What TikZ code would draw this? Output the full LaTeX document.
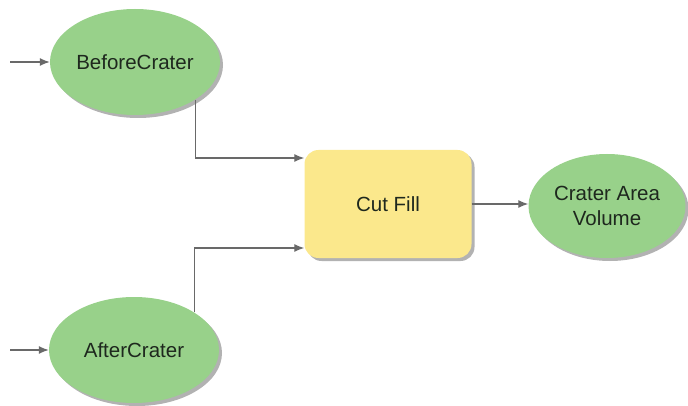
\documentclass[tikz,border=0pt]{standalone}
\usepackage{fontspec}
\setmainfont{Liberation Sans}
\usetikzlibrary{shapes.geometric,shadows,arrows.meta}
\definecolor{nodegreen}{RGB}{152,209,138}
\definecolor{toolyellow}{RGB}{251,232,140}
\definecolor{linegray}{RGB}{105,105,105}
\definecolor{textdark}{RGB}{30,40,30}
\tikzset{
  dataellipse/.style={ellipse, fill=nodegreen, minimum width=170pt, minimum height=106pt, inner sep=0pt,
    align=center, font=\fontsize{20.5}{25}\selectfont, text=textdark,
    drop shadow={shadow xshift=3pt, shadow yshift=-3pt, fill=black, opacity=0.3}},
  toolbox/.style={rectangle, rounded corners=14pt, fill=toolyellow, minimum width=167pt, minimum height=108pt,
    inner sep=0pt, font=\fontsize{20.5}{25}\selectfont, text=textdark,
    drop shadow={shadow xshift=3pt, shadow yshift=-3pt, fill=black, opacity=0.3}},
  conn/.style={draw=linegray, line width=1.3pt, -{Latex[length=10pt,width=8pt]}},
}
\begin{document}
\begin{tikzpicture}[x=1pt,y=-1pt]
\useasboundingbox (0,0) rectangle (688,406);
\node[dataellipse] (bc) at (135,62) {BeforeCrater};
\node[dataellipse] (ac) at (134,350) {AfterCrater};
\node[toolbox] (cf) at (388,204) {Cut Fill};
\node[dataellipse, minimum width=157pt, minimum height=104pt] (out) at (607,206) {Crater Area\\Volume};
\coordinate (bcin) at (10,62);
\coordinate (acin) at (10,350);
\draw[conn] (bcin) -- (bc.west);
\draw[conn] (acin) -- (ac.west);
\draw[conn] (bc.south east) |- ([yshift=46pt]cf.west);
\draw[conn] (ac.north east) |- ([yshift=-44pt]cf.west);
\draw[conn] (cf.east) -- (cf.east -| out.west);
\end{tikzpicture}
\end{document}
